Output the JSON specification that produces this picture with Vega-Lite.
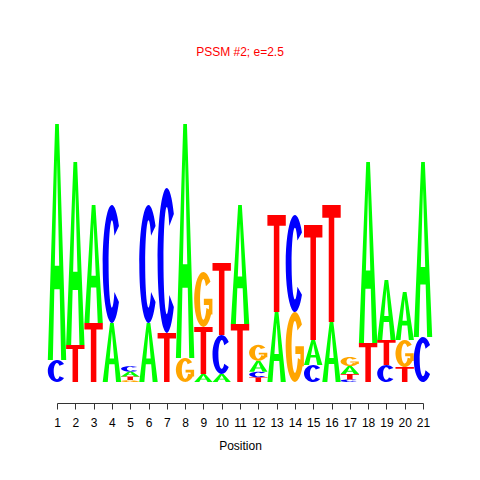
{
  "$schema": "https://vega.github.io/schema/vega-lite/v6.json",
  "width": 366,
  "height": 260,
  "autosize": "none",
  "padding": {"left": 57, "top": 122, "right": 57, "bottom": 98},
  "background": "white",
  "config": {"view": {"stroke": null}},
  "title": {"text": "PSSM #2; e=2.5", "color": "#FF0000", "fontSize": 12, "font": "Liberation Sans", "fontWeight": "normal", "offset": 63, "anchor": "middle"},
  "data": {"values": [
    {"pos": 1, "letter": "C", "bits": 0.169}, {"pos": 1, "letter": "A", "bits": 1.815},
    {"pos": 2, "letter": "T", "bits": 0.285}, {"pos": 2, "letter": "A", "bits": 1.408},
    {"pos": 3, "letter": "T", "bits": 0.454}, {"pos": 3, "letter": "A", "bits": 0.908},
    {"pos": 4, "letter": "A", "bits": 0.454}, {"pos": 4, "letter": "C", "bits": 0.908},
    {"pos": 5, "letter": "G", "bits": 0.015}, {"pos": 5, "letter": "T", "bits": 0.027}, {"pos": 5, "letter": "A", "bits": 0.038}, {"pos": 5, "letter": "C", "bits": 0.042},
    {"pos": 6, "letter": "A", "bits": 0.454}, {"pos": 6, "letter": "C", "bits": 0.908},
    {"pos": 7, "letter": "T", "bits": 0.377}, {"pos": 7, "letter": "C", "bits": 1.115},
    {"pos": 8, "letter": "G", "bits": 0.185}, {"pos": 8, "letter": "A", "bits": 1.8},
    {"pos": 9, "letter": "A", "bits": 0.062}, {"pos": 9, "letter": "T", "bits": 0.362}, {"pos": 9, "letter": "G", "bits": 0.423},
    {"pos": 10, "letter": "A", "bits": 0.062}, {"pos": 10, "letter": "C", "bits": 0.3}, {"pos": 10, "letter": "T", "bits": 0.554},
    {"pos": 11, "letter": "T", "bits": 0.446}, {"pos": 11, "letter": "A", "bits": 0.915},
    {"pos": 12, "letter": "T", "bits": 0.036}, {"pos": 12, "letter": "C", "bits": 0.042}, {"pos": 12, "letter": "A", "bits": 0.085}, {"pos": 12, "letter": "G", "bits": 0.123},
    {"pos": 13, "letter": "A", "bits": 0.538}, {"pos": 13, "letter": "T", "bits": 0.746},
    {"pos": 14, "letter": "G", "bits": 0.538}, {"pos": 14, "letter": "C", "bits": 0.746},
    {"pos": 15, "letter": "C", "bits": 0.131}, {"pos": 15, "letter": "A", "bits": 0.192}, {"pos": 15, "letter": "T", "bits": 0.885},
    {"pos": 16, "letter": "A", "bits": 0.462}, {"pos": 16, "letter": "T", "bits": 0.9},
    {"pos": 17, "letter": "C", "bits": 0.019}, {"pos": 17, "letter": "T", "bits": 0.042}, {"pos": 17, "letter": "A", "bits": 0.062}, {"pos": 17, "letter": "G", "bits": 0.069},
    {"pos": 18, "letter": "T", "bits": 0.3}, {"pos": 18, "letter": "A", "bits": 1.392},
    {"pos": 19, "letter": "C", "bits": 0.131}, {"pos": 19, "letter": "T", "bits": 0.192}, {"pos": 19, "letter": "A", "bits": 0.462},
    {"pos": 20, "letter": "T", "bits": 0.115}, {"pos": 20, "letter": "G", "bits": 0.208}, {"pos": 20, "letter": "A", "bits": 0.369},
    {"pos": 21, "letter": "C", "bits": 0.346}, {"pos": 21, "letter": "A", "bits": 1.346}
  ]},
  "transform": [
    {"stack": "bits", "groupby": ["pos"], "sort": [{"field": "bits", "order": "ascending"}], "as": ["y0", "y1"]},
    {"calculate": "(datum.y0 + datum.y1) / 2", "as": "ym"},
    {"calculate": "(datum.y1 - datum.y0) * 65", "as": "h"},
    {"calculate": "9.2", "as": "w"},
    {"calculate": "datum.letter=='A' ? ('M'+(-datum.w)+','+datum.h+'L'+(-0.2*datum.w)+','+(-datum.h)+'L'+(0.2*datum.w)+','+(-datum.h)+'L'+datum.w+','+datum.h+'L'+(0.45*datum.w)+','+datum.h+'L'+(0.29*datum.w)+','+(0.4*datum.h)+'L'+(-0.29*datum.w)+','+(0.4*datum.h)+'L'+(-0.45*datum.w)+','+datum.h+'ZM'+(-0.238*datum.w)+','+(0.2*datum.h)+'L'+(0.238*datum.w)+','+(0.2*datum.h)+'L0,'+(-0.7*datum.h)+'Z') : datum.letter=='T' ? ('M'+(-datum.w)+','+(-datum.h)+'L'+datum.w+','+(-datum.h)+'L'+datum.w+','+(-0.78*datum.h)+'L'+(0.3*datum.w)+','+(-0.78*datum.h)+'L'+(0.3*datum.w)+','+datum.h+'L'+(-0.3*datum.w)+','+datum.h+'L'+(-0.3*datum.w)+','+(-0.78*datum.h)+'L'+(-datum.w)+','+(-0.78*datum.h)+'Z') : datum.letter=='C' ? ('M'+(0.766*datum.w)+','+(-0.643*datum.h)+'A'+datum.w+','+datum.h+',0,1,0,'+(0.766*datum.w)+','+(0.643*datum.h)+'L'+(0.276*datum.w)+','+(0.476*datum.h)+'A'+(0.36*datum.w)+','+(0.74*datum.h)+',0,1,1,'+(0.276*datum.w)+','+(-0.476*datum.h)+'Z') : ('M'+(0.766*datum.w)+','+(-0.643*datum.h)+'A'+datum.w+','+datum.h+',0,1,0,'+(0.906*datum.w)+','+(0.423*datum.h)+'L'+(0.326*datum.w)+','+(0.313*datum.h)+'A'+(0.36*datum.w)+','+(0.74*datum.h)+',0,1,1,'+(0.276*datum.w)+','+(-0.476*datum.h)+'ZM'+(0.05*datum.w)+','+(-0.02*datum.h)+'L'+(0.05*datum.w)+','+(0.2*datum.h)+'L'+(0.98*datum.w)+','+(0.2*datum.h)+'L'+(0.98*datum.w)+','+(-0.02*datum.h)+'ZM'+(0.6*datum.w)+','+(-0.02*datum.h)+'L'+(0.6*datum.w)+','+(0.55*datum.h)+'L'+(0.98*datum.w)+','+(0.55*datum.h)+'L'+(0.98*datum.w)+','+(-0.02*datum.h)+'Z')", "as": "glyph"}
  ],
  "mark": {"type": "point", "filled": true, "size": 4, "opacity": 1, "strokeWidth": 0},
  "encoding": {
    "x": {"field": "pos", "type": "quantitative",
      "scale": {"domain": [1, 21], "nice": false, "zero": false},
      "axis": {"values": [1,2,3,4,5,6,7,8,9,10,11,12,13,14,15,16,17,18,19,20,21], "grid": false, "title": "Position", "offset": 21, "tickSize": 6, "domainColor": "#333", "tickColor": "#333", "labelColor": "#000", "labelFont": "Liberation Sans", "labelFontSize": 12, "labelPadding": 8, "labelFlush": false, "labelOverlap": false, "titleFont": "Liberation Sans", "titleFontSize": 12, "titleFontWeight": "normal", "titleColor": "#000", "titlePadding": 12}},
    "y": {"field": "ym", "type": "quantitative", "scale": {"domain": [0, 2], "nice": false, "zero": true}, "axis": null},
    "shape": {"field": "glyph", "type": "nominal", "scale": null},
    "color": {"field": "letter", "type": "nominal", "scale": {"domain": ["A", "C", "G", "T"], "range": ["#00FF00", "#0000FF", "#FFA500", "#FF0000"]}, "legend": null}
  }
}
